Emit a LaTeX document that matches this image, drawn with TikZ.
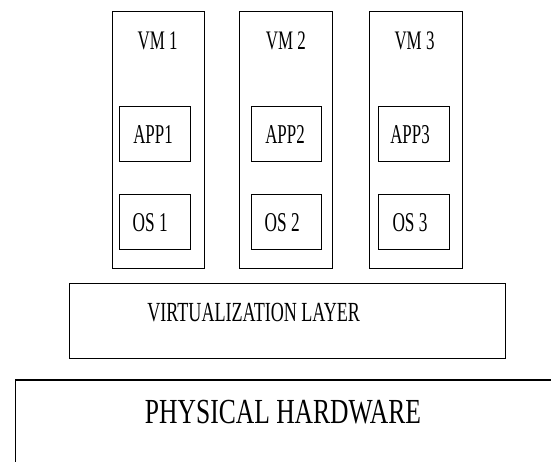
\documentclass[tikz,border=0pt]{standalone}
\usepackage{fontspec}
\setmainfont{Liberation Serif}
\usepackage{graphicx}
\newcommand{\fitbox}[3]{\resizebox{#1pt}{#2pt}{#3}}
\begin{document}
\begin{tikzpicture}[x=1pt,y=-1pt,
  box/.style={draw=black, line width=1pt, inner sep=0pt, fill=none},
  lbl/.style={inner sep=0pt, anchor=center, text=black}]
\useasboundingbox (0,0) rectangle (551,461);
\clip (0,0) rectangle (551,461);
% VM boxes
\node[box, minimum width=92pt, minimum height=256.5pt] (vm1) at (158,140) {};
\node[box, minimum width=92.7pt, minimum height=256.5pt] (vm2) at (286.3,140) {};
\node[box, minimum width=93.3pt, minimum height=256.5pt] (vm3) at (415.7,140) {};
% APP boxes
\node[box, minimum width=70.7pt, minimum height=55pt] (app1) at (155.3,134.2) {};
\node[box, minimum width=70pt, minimum height=55pt] (app2) at (286.7,134.2) {};
\node[box, minimum width=71pt, minimum height=55pt] (app3) at (413.8,134.2) {};
% OS boxes
\node[box, minimum width=70.7pt, minimum height=55pt] (os1) at (155.3,221.8) {};
\node[box, minimum width=70pt, minimum height=55pt] (os2) at (286.7,221.8) {};
\node[box, minimum width=71pt, minimum height=55pt] (os3) at (413.8,221.8) {};
% virtualization layer
\node[box, minimum width=436.4pt, minimum height=74.7pt] (virt) at (287.5,321.3) {};
% physical hardware (runs past the right and bottom edges)
\node[box, line width=1.2pt, minimum width=600pt, minimum height=200pt] (phys) at (315.7,480) {};
\draw[line width=1.6pt] (phys.north west) -- (phys.north east);
% labels
\node[lbl] (vm1t) at (157.7,41.2) {\fitbox{40}{17.7}{VM 1}};
\node[lbl] (vm2t) at (285.8,41.2) {\fitbox{40}{17.7}{VM 2}};
\node[lbl] (vm3t) at (414.5,41.2) {\fitbox{40}{17.7}{VM 3}};
\node[lbl] (app1t) at (153,134.2) {\fitbox{39.4}{18}{APP1}};
\node[lbl] (app2t) at (285,134.2) {\fitbox{39.4}{18}{APP2}};
\node[lbl] (app3t) at (410,134.2) {\fitbox{39.4}{18}{APP3}};
\node[lbl] (os1t) at (150.2,222.5) {\fitbox{35}{18}{OS 1}};
\node[lbl] (os2t) at (282.2,222.5) {\fitbox{35}{18}{OS 2}};
\node[lbl] (os3t) at (410,222.5) {\fitbox{35}{18}{OS 3}};
\node[lbl] (virtt) at (253.7,312.2) {\fitbox{212.7}{18.3}{VIRTUALIZATION LAYER}};
\node[lbl] (physt) at (283,411.7) {\fitbox{276}{23.3}{PHYSICAL HARDWARE}};
\end{tikzpicture}
\end{document}
